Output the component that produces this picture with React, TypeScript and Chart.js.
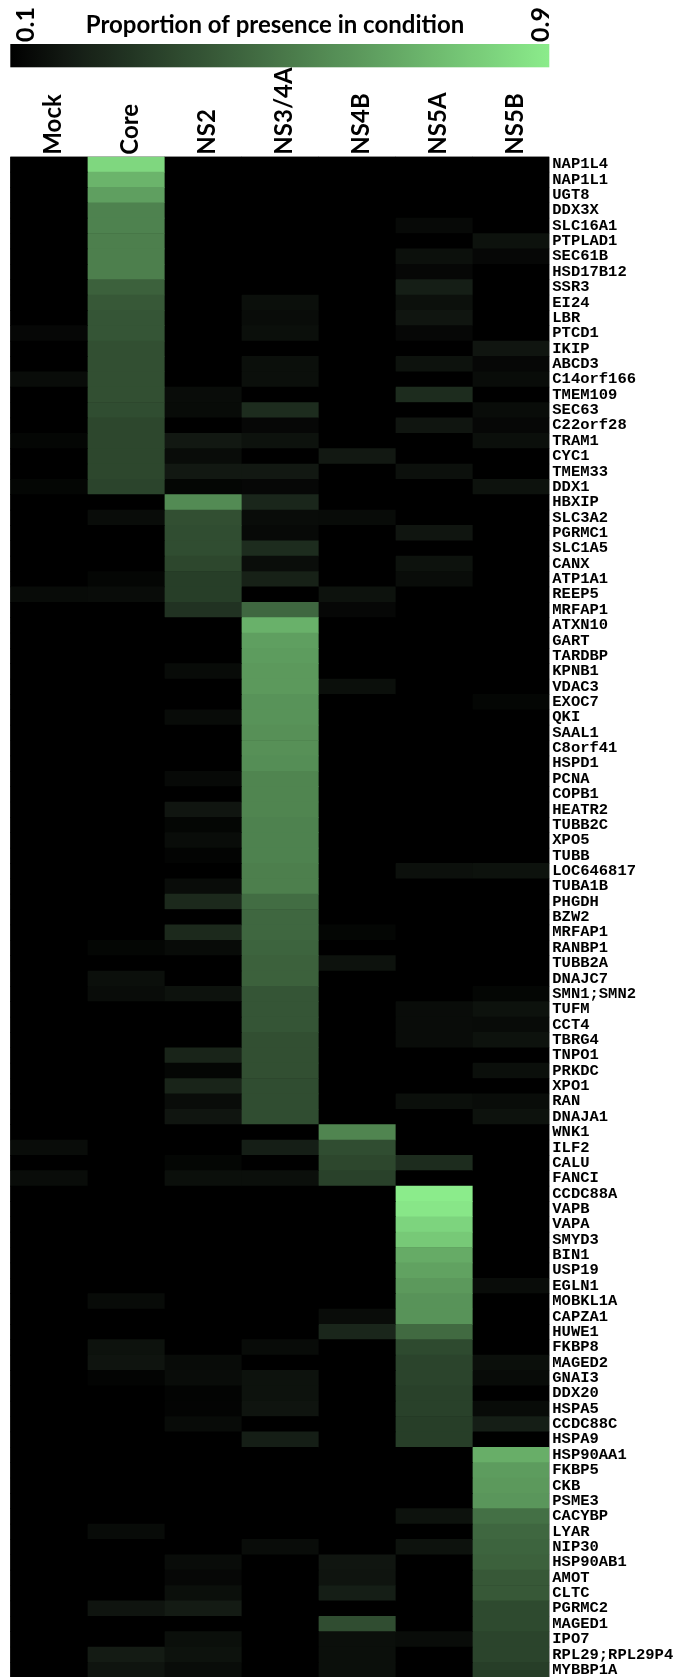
import { useEffect, useRef } from "react";
import { Chart, registerables } from "chart.js";

Chart.register(...registerables);

// Conditions (columns) and proteins (rows)
const conditions = ["Mock", "Core", "NS2", "NS3/4A", "NS4B", "NS5A", "NS5B"];

const genes = [
  "NAP1L4", "NAP1L1", "UGT8", "DDX3X", "SLC16A1", "PTPLAD1", "SEC61B", "HSD17B12", "SSR3", "EI24",
  "LBR", "PTCD1", "IKIP", "ABCD3", "C14orf166", "TMEM109", "SEC63", "C22orf28", "TRAM1", "CYC1",
  "TMEM33", "DDX1", "HBXIP", "SLC3A2", "PGRMC1", "SLC1A5", "CANX", "ATP1A1", "REEP5", "MRFAP1",
  "ATXN10", "GART", "TARDBP", "KPNB1", "VDAC3", "EXOC7", "QKI", "SAAL1", "C8orf41", "HSPD1",
  "PCNA", "COPB1", "HEATR2", "TUBB2C", "XPO5", "TUBB", "LOC646817", "TUBA1B", "PHGDH", "BZW2",
  "MRFAP1", "RANBP1", "TUBB2A", "DNAJC7", "SMN1;SMN2", "TUFM", "CCT4", "TBRG4", "TNPO1", "PRKDC",
  "XPO1", "RAN", "DNAJA1", "WNK1", "ILF2", "CALU", "FANCI", "CCDC88A", "VAPB", "VAPA",
  "SMYD3", "BIN1", "USP19", "EGLN1", "MOBKL1A", "CAPZA1", "HUWE1", "FKBP8", "MAGED2", "GNAI3",
  "DDX20", "HSPA5", "CCDC88C", "HSPA9", "HSP90AA1", "FKBP5", "CKB", "PSME3", "CACYBP", "LYAR",
  "NIP30", "HSP90AB1", "AMOT", "CLTC", "PGRMC2", "MAGED1", "IPO7", "RPL29;RPL29P4", "MYBBP1A",
];

// Proportion of presence per condition, one value per protein (rows in order above)
const mock = [
  0, 0, 0, 0, 0, 0, 0, 0, 0, 0,
  0, 0.125, 0, 0, 0.14, 0, 0, 0, 0.12, 0,
  0, 0.12, 0, 0, 0, 0, 0, 0, 0.135, 0,
  0, 0, 0, 0, 0, 0, 0, 0, 0, 0,
  0, 0, 0, 0, 0, 0, 0, 0, 0, 0,
  0, 0, 0, 0, 0, 0, 0, 0, 0, 0,
  0, 0, 0, 0, 0.14, 0, 0.14, 0, 0, 0,
  0, 0, 0, 0, 0, 0, 0, 0, 0, 0,
  0, 0, 0, 0, 0, 0, 0, 0, 0, 0,
  0, 0, 0, 0, 0, 0, 0, 0, 0,
];

const core = [
  0.83, 0.71, 0.64, 0.54, 0.54, 0.53, 0.53, 0.53, 0.43, 0.40,
  0.39, 0.39, 0.37, 0.37, 0.37, 0.37, 0.36, 0.34, 0.34, 0.34,
  0.34, 0.33, 0, 0.14, 0, 0, 0, 0.12, 0.14, 0,
  0, 0, 0, 0, 0, 0, 0, 0, 0, 0,
  0, 0, 0, 0, 0, 0, 0, 0, 0, 0,
  0, 0.12, 0, 0.15, 0.14, 0, 0, 0, 0, 0,
  0, 0, 0, 0, 0, 0, 0, 0, 0, 0,
  0, 0, 0, 0, 0.135, 0, 0, 0.16, 0.165, 0.115,
  0, 0, 0, 0, 0, 0, 0, 0, 0, 0.135,
  0, 0, 0, 0, 0.165, 0, 0, 0.19, 0.165,
];

const ns2 = [
  0, 0, 0, 0, 0, 0, 0, 0, 0, 0,
  0, 0, 0, 0, 0, 0.14, 0.135, 0, 0.18, 0.14,
  0.18, 0.12, 0.57, 0.37, 0.36, 0.36, 0.34, 0.31, 0.31, 0.27,
  0, 0, 0, 0.135, 0, 0, 0.135, 0, 0, 0,
  0.13, 0, 0.17, 0.12, 0.14, 0.115, 0, 0.14, 0.24, 0,
  0.24, 0.135, 0, 0, 0.16, 0, 0, 0, 0.22, 0.12,
  0.22, 0.14, 0.17, 0, 0, 0.12, 0.15, 0, 0, 0,
  0, 0, 0, 0, 0, 0, 0, 0, 0.135, 0.14,
  0.115, 0.115, 0.135, 0, 0, 0, 0, 0, 0, 0,
  0, 0.14, 0.125, 0.15, 0.19, 0, 0.15, 0.16, 0.14,
];

const ns34a = [
  0, 0, 0, 0, 0, 0, 0, 0, 0, 0.15,
  0.14, 0.15, 0, 0.15, 0.15, 0, 0.25, 0.125, 0.16, 0,
  0.18, 0.125, 0.23, 0.14, 0.13, 0.25, 0.145, 0.21, 0, 0.45,
  0.70, 0.64, 0.63, 0.62, 0.62, 0.60, 0.60, 0.59, 0.59, 0.58,
  0.55, 0.55, 0.55, 0.54, 0.54, 0.54, 0.53, 0.53, 0.47, 0.45,
  0.45, 0.44, 0.43, 0.43, 0.39, 0.39, 0.39, 0.37, 0.37, 0.37,
  0.36, 0.36, 0.36, 0, 0.2, 0, 0.15, 0, 0, 0,
  0, 0, 0, 0, 0, 0, 0, 0.135, 0, 0.16,
  0.16, 0.165, 0, 0.2, 0, 0, 0, 0, 0, 0,
  0.14, 0, 0, 0, 0, 0, 0, 0, 0,
];

const ns4b = [
  0, 0, 0, 0, 0, 0, 0, 0, 0, 0,
  0, 0, 0, 0, 0, 0, 0, 0, 0, 0.18,
  0, 0, 0, 0.135, 0, 0, 0, 0, 0.16, 0.125,
  0, 0, 0, 0, 0.15, 0, 0, 0, 0, 0,
  0, 0, 0, 0, 0, 0, 0, 0, 0, 0,
  0.12, 0, 0.16, 0, 0, 0, 0, 0, 0, 0,
  0, 0, 0, 0.55, 0.36, 0.34, 0.32, 0, 0, 0,
  0, 0, 0, 0, 0, 0.14, 0.23, 0, 0, 0,
  0, 0, 0, 0, 0, 0, 0, 0, 0, 0,
  0, 0.17, 0.165, 0.2, 0, 0.36, 0.15, 0.15, 0.15,
];

const ns5a = [
  0, 0, 0, 0, 0.13, 0, 0.155, 0.125, 0.2, 0.155,
  0.17, 0.125, 0, 0.16, 0, 0.25, 0, 0.17, 0, 0,
  0.155, 0, 0, 0, 0.17, 0, 0.16, 0.14, 0, 0,
  0, 0, 0, 0, 0, 0, 0, 0, 0, 0,
  0, 0, 0, 0, 0, 0, 0.155, 0, 0, 0,
  0, 0, 0, 0, 0, 0.14, 0.14, 0.14, 0, 0,
  0, 0.15, 0, 0, 0, 0.25, 0, 0.9, 0.88, 0.82,
  0.78, 0.68, 0.65, 0.62, 0.60, 0.60, 0.46, 0.35, 0.33, 0.33,
  0.32, 0.32, 0.31, 0.31, 0, 0, 0, 0, 0.16, 0,
  0.16, 0, 0, 0, 0, 0, 0.14, 0, 0,
];

const ns5b = [
  0, 0, 0, 0, 0, 0.16, 0.125, 0, 0, 0,
  0, 0, 0.17, 0.125, 0.14, 0, 0.14, 0.125, 0.15, 0,
  0, 0.16, 0, 0, 0, 0, 0, 0, 0, 0,
  0, 0, 0, 0, 0, 0.12, 0, 0, 0, 0,
  0, 0, 0, 0, 0, 0, 0.16, 0, 0, 0,
  0, 0, 0, 0, 0.12, 0.16, 0.135, 0.16, 0, 0.15,
  0, 0.14, 0.16, 0, 0, 0, 0, 0, 0, 0,
  0, 0, 0, 0.14, 0, 0, 0, 0, 0.15, 0.135,
  0, 0.135, 0.2, 0, 0.69, 0.63, 0.62, 0.61, 0.48, 0.45,
  0.44, 0.43, 0.40, 0.40, 0.35, 0.35, 0.33, 0.33, 0.31,
];

const seriesByCondition = [mock, core, ns2, ns34a, ns4b, ns5a, ns5b];

// Colour scale
const scaleMin = 0.1;
const scaleMax = 0.9;
const scaleEndLabels = ["0.1", "0.9"];
const scaleTitle = "Proportion of presence in condition";

const colorStops: [number, [number, number, number]][] = [
  [0, [0, 0, 0]],
  [0.1, [18, 24, 18]],
  [0.2, [31, 47, 32]],
  [1, [139, 236, 139]],
];

function colorAt(t: number): string {
  const u = Math.max(0, Math.min(1, t));
  for (let i = 1; i < colorStops.length; i++) {
    const [t1, c1] = colorStops[i];
    const [t0, c0] = colorStops[i - 1];
    if (u <= t1) {
      const f = (u - t0) / (t1 - t0);
      const c = c0.map((v, k) => Math.round(v + (c1[k] - v) * f));
      return `rgb(${c[0]},${c[1]},${c[2]})`;
    }
  }
  const last = colorStops[colorStops.length - 1][1];
  return `rgb(${last[0]},${last[1]},${last[2]})`;
}

function colorFor(value: number): string {
  return colorAt((value - scaleMin) / (scaleMax - scaleMin));
}

const CANVAS_W = 678;
const CANVAS_H = 1690;
const PLOT_LEFT = 10.3;
const PLOT_TOP = 156.7;
const LABEL_W = 128.7;
const ROW_H = 15.4;
const PLOT_BOTTOM = PLOT_TOP + ROW_H * genes.length;

const headerPlugin = {
  id: "heatHeader",
  beforeDatasetsDraw(chart: Chart) {
    const { ctx, chartArea } = chart;
    ctx.save();
    ctx.fillStyle = "#000";
    ctx.fillRect(chartArea.left, chartArea.top, chartArea.right - chartArea.left, chartArea.bottom - chartArea.top);
    ctx.restore();
  },
  afterDraw(chart: Chart) {
    const { ctx, chartArea } = chart;
    const left = chartArea.left;
    const right = chartArea.right;
    ctx.save();

    // colour bar
    const grad = ctx.createLinearGradient(left, 0, right, 0);
    for (let i = 0; i <= 40; i++) {
      const t = i / 40;
      grad.addColorStop(t, colorAt(t));
    }
    ctx.fillStyle = grad;
    ctx.fillRect(left, 44, right - left, 23.3);

    // title
    ctx.fillStyle = "#000";
    ctx.font = "bold 24px Lato";
    ctx.textAlign = "center";
    ctx.textBaseline = "alphabetic";
    ctx.fillText(scaleTitle, 275, 33);

    // end labels, rotated
    const drawRotated = (text: string, x: number, y: number) => {
      ctx.save();
      ctx.translate(x, y);
      ctx.rotate(-Math.PI / 2);
      ctx.font = "bold 25px Lato";
      ctx.textAlign = "left";
      ctx.textBaseline = "alphabetic";
      ctx.fillText(text, 0, 0);
      ctx.restore();
    };
    drawRotated(scaleEndLabels[0], 34, 42);
    drawRotated(scaleEndLabels[1], 549, 42);

    ctx.restore();
  },
};

export default function App() {
  const canvasRef = useRef<HTMLCanvasElement | null>(null);

  useEffect(() => {
    const canvas = canvasRef.current;
    if (!canvas) return;

    const datasets = conditions.map((cond, ci) => ({
      label: cond,
      data: seriesByCondition[ci].map((_, ri) => ({ x: cond, y: [ri, ri + 1] })),
      backgroundColor: seriesByCondition[ci].map(colorFor),
      borderWidth: 0,
      barPercentage: 1,
      categoryPercentage: 1,
      grouped: false,
      xAxisID: "x",
      yAxisID: "y",
    }));

    const chart = new Chart(canvas, {
      type: "bar",
      data: { labels: conditions, datasets: datasets as any },
      options: {
        animation: false,
        responsive: false,
        devicePixelRatio: 1,
        layout: {
          padding: { left: PLOT_LEFT, right: 0, top: 0, bottom: CANVAS_H - PLOT_BOTTOM },
        },
        plugins: {
          legend: { display: false },
          tooltip: { enabled: false },
          title: { display: false },
        },
        scales: {
          x: {
            type: "category",
            position: "top",
            offset: true,
            grid: { display: false, drawTicks: false },
            border: { display: false },
            ticks: {
              autoSkip: false,
              maxRotation: 90,
              minRotation: 90,
              padding: 2,
              labelOffset: 33,
              color: "#000",
              font: { family: "Lato", weight: "bold", size: 24 },
            },
            afterFit: (scale: any) => {
              scale.height = PLOT_TOP;
            },
          },
          y: {
            type: "linear",
            display: false,
            reverse: true,
            min: 0,
            max: genes.length,
          },
          genes: {
            type: "category",
            axis: "y",
            position: "right",
            labels: genes,
            offset: true,
            grid: { display: false, drawTicks: false },
            border: { display: false },
            ticks: {
              autoSkip: false,
              padding: 3,
              color: "#000",
              font: { family: "Liberation Mono", weight: "bold", size: 15.5 },
            },
            afterFit: (scale: any) => {
              scale.width = LABEL_W;
            },
          },
        } as any,
      },
      plugins: [headerPlugin],
    });

    return () => chart.destroy();
  }, []);

  return (
    <div
      style={{
        position: "absolute",
        left: 0,
        top: 0,
        width: CANVAS_W,
        height: 1677,
        overflow: "hidden",
        background: "#fff",
      }}
    >
      <canvas
        ref={canvasRef}
        width={CANVAS_W}
        height={CANVAS_H}
        style={{ display: "block", width: CANVAS_W, height: CANVAS_H }}
      />
    </div>
  );
}
